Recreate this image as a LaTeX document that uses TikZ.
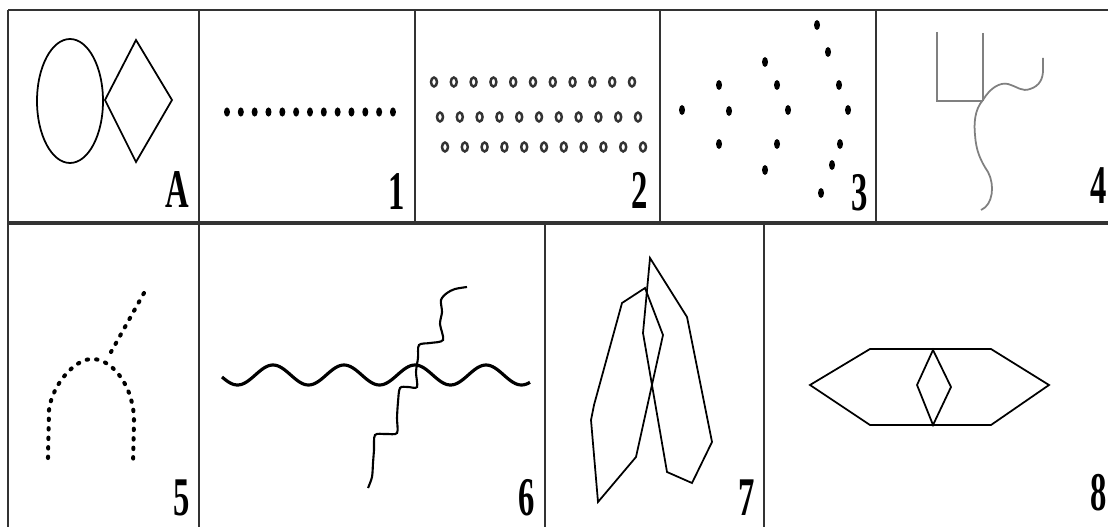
\documentclass[tikz,border=0pt]{standalone}
\usepackage{fontspec}
\setmainfont{Liberation Serif}
\usetikzlibrary{positioning}

\tikzset{
  frame/.style={line width=0.9pt, black!80},
  figline/.style={line width=1pt},
  dotrow/.style={line width=2.3pt, line cap=round, dash pattern=on 0.8pt off 4.6pt},
  cellno/.style={anchor=base east, inner sep=0pt, font=\fontsize{31}{31}\selectfont\bfseries}
}

\begin{document}
\begin{tikzpicture}[x=0.02cm, y=-0.02cm]

\useasboundingbox (0,0) rectangle (1108,527);
\fill[white] (0,0) rectangle (1108,527);

% table lines
\draw[frame, line width=1.5pt] (8,10) -- (1108,10);
\draw[frame, line width=1.8pt] (8,223) -- (1108,223);
\draw[frame] (8,10) -- (8,527);
\foreach \cx in {199,415,660,876}
  \draw[frame] (\cx,10) -- (\cx,223);
\foreach \cx in {199,545,764}
  \draw[frame] (\cx,223) -- (\cx,527);

% A: oval and diamond
\draw[figline] (70,101) ellipse (33 and 62);
\draw[figline] (105,100) -- (136,40) -- (172,100) -- (136,162) -- cycle;

% 1: row of dots
\foreach \i in {0,...,12}
  \fill ({227+13.83*\i},112) ellipse (3 and 4.6);

% 2: three rows of rings
\foreach \i in {0,...,10} {
  \draw[line width=1.4pt, black!80] ({434+19.8*\i},82) ellipse (3 and 4.5);
  \draw[line width=1.4pt, black!80] ({440+19.8*\i},117) ellipse (3 and 4.5);
  \draw[line width=1.4pt, black!80] ({445+19.8*\i},147) ellipse (3 and 4.5);
}

% 3: dots in arcs
\foreach \p in {(682,110),
                (719,85),(729,111),(719,144),
                (765,62),(777,85),(788,110),(777,144),(765,170),
                (817,25),(828,52),(839,85),(848,110),(840,144),(832,165),(821,193)}
  \fill \p ellipse (3 and 5);

% 4: grey lines
\draw[figline, gray] (937,32) -- (937,101) -- (983,101);
\draw[figline, gray] (983,33) -- (983,101);
\draw[figline, gray] (983,100) .. controls (990,88) and (1000,82) .. (1008,84)
  .. controls (1018,87) and (1022,92) .. (1030,89)
  .. controls (1040,86) and (1043,78) .. (1043,70) -- (1043,58);
\draw[figline, gray] (983,100) .. controls (974,110) and (974,125) .. (975,135)
  .. controls (976,150) and (980,160) .. (988,172)
  .. controls (995,185) and (993,205) .. (981,210);

% 5: dotted arch and branch
\draw[dotrow] (48,458) -- (49,410) .. controls (52,385) and (75,358) .. (93,359)
  .. controls (115,360) and (134,390) .. (134,420) -- (133,465);
\draw[dotrow] (144,293) -- (111,352);

% 6: wave and crossing zigzag
\draw[line width=1.8pt, domain=222:530, samples=150]
  plot (\x,{375-10*cos(5.0704*(\x-273))});
\draw[line width=1.2pt] plot[smooth, tension=0.5] coordinates {
  (467,287) (455,289) (447,293) (441,300) (442,312) (440,324) (443,340)
  (430,343) (419,345) (418,358) (416,372) (417,387) (408,387) (400,388)
  (398,402) (397,418) (397,433) (386,434) (375,435) (374,450) (373,463)
  (372,477) (368,488)};

% 7: two crossed hexagons
\draw[figline] (645,288) -- (622,303) -- (594,405) -- (591,420) -- (598,502)
  -- (636,457) -- (663,335) -- cycle;
\draw[figline] (650,258) -- (687,317) -- (712,442) -- (692,483) -- (667,472)
  -- (643,333) -- cycle;

% 8: hexagon with diamond
\draw[figline] (810,385) -- (870,349) -- (991,349) -- (1049,385) -- (991,425)
  -- (870,425) -- cycle;
\draw[figline] (933,350) -- (951,387) -- (933,425) -- (917,385) -- cycle;

% cell labels
\node[cellno] (labA) at (189,207) {\scalebox{0.6}[1]{A}};
\node[cellno] (lab1) at (405,209) {\scalebox{0.6}[1]{1}};
\node[cellno] (lab2) at (648,208) {\scalebox{0.6}[1]{2}};
\node[cellno] (lab3) at (868,210) {\scalebox{0.6}[1]{3}};
\node[cellno] (lab4) at (1107,203) {\scalebox{0.6}[1]{4}};
\node[cellno] (lab5) at (190,515) {\scalebox{0.6}[1]{5}};
\node[cellno] (lab6) at (535,515) {\scalebox{0.6}[1]{6}};
\node[cellno] (lab7) at (755,515) {\scalebox{0.6}[1]{7}};
\node[cellno] (lab8) at (1107,510) {\scalebox{0.6}[1]{8}};

\end{tikzpicture}
\end{document}
